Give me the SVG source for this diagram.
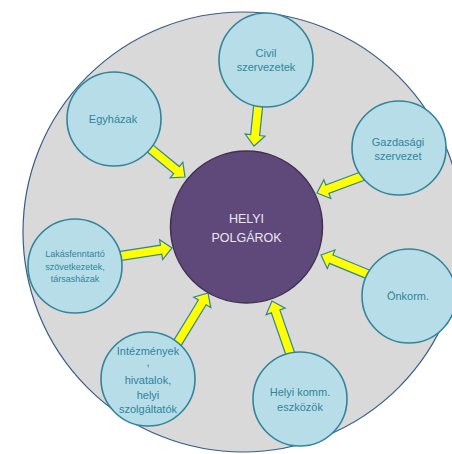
<svg xmlns="http://www.w3.org/2000/svg" width="452" height="454" viewBox="0 0 452 454">
<style>
.bg{fill:#d9d9d9;stroke:#385d8a;stroke-width:1.2}
.hub{fill:#5f497a;stroke:#3f3151;stroke-width:1.5}
.node{fill:#b7dee8;stroke:#31849b;stroke-width:1.6}
.arr{fill:#ffff00;stroke:#31849b;stroke-width:1.2;stroke-linejoin:miter}
.t{font-family:"Liberation Sans",Arial,sans-serif;font-size:11px;fill:#31849b;text-anchor:middle}
.ts{font-size:9px}
.th{font-family:"Liberation Sans",Arial,sans-serif;font-size:12.5px;fill:#ece6f2;text-anchor:middle}
</style>
<rect width="452" height="454" fill="#ffffff"/>
<circle class="bg" cx="243" cy="232" r="220"/>
<g id="connectors">
<path class="arr" transform="translate(254,146) rotate(95.9)" d="M-44,-4.5 L-11,-4.5 L-11,-10 L0,0 L-11,10 L-11,4.5 L-44,4.5 Z"/>
<path class="arr" transform="translate(185,177) rotate(39.3)" d="M-48,-4.5 L-11,-4.5 L-11,-10 L0,0 L-11,10 L-11,4.5 L-48,4.5 Z"/>
<path class="arr" transform="translate(317,193) rotate(159.6)" d="M-51,-4.5 L-11,-4.5 L-11,-10 L0,0 L-11,10 L-11,4.5 L-51,4.5 Z"/>
<path class="arr" transform="translate(172,248) rotate(-8.7)" d="M-58,-4.5 L-11,-4.5 L-11,-10 L0,0 L-11,10 L-11,4.5 L-58,4.5 Z"/>
<path class="arr" transform="translate(321,255) rotate(202.4)" d="M-55,-4.5 L-11,-4.5 L-11,-10 L0,0 L-11,10 L-11,4.5 L-55,4.5 Z"/>
<path class="arr" transform="translate(208,293) rotate(-58.5)" d="M-63,-4.5 L-11,-4.5 L-11,-10 L0,0 L-11,10 L-11,4.5 L-63,4.5 Z"/>
<path class="arr" transform="translate(272,301) rotate(-109.1)" d="M-63,-4.5 L-11,-4.5 L-11,-10 L0,0 L-11,10 L-11,4.5 L-63,4.5 Z"/>
</g>
<g id="hub">
<circle class="hub" cx="246.5" cy="227" r="76"/>
<text class="th" x="246.5" y="222.5">HELYI</text>
<text class="th" x="246.5" y="241.5">POLGÁROK</text>
</g>
<g id="civil">
<circle class="node" cx="266" cy="60" r="47"/>
<text class="t" x="266" y="57">Civil</text>
<text class="t" x="266" y="71">szervezetek</text>
</g>
<g id="egyhazak">
<circle class="node" cx="114" cy="119" r="47"/>
<text class="t" x="113" y="123">Egyházak</text>
</g>
<g id="gazdasagi">
<circle class="node" cx="399" cy="148" r="47"/>
<text class="t" x="398" y="146">Gazdasági</text>
<text class="t" x="398" y="160">szervezet</text>
</g>
<g id="lakas">
<circle class="node" cx="75" cy="266" r="47"/>
<text class="t ts" x="75" y="257">Lakásfenntartó</text>
<text class="t ts" x="75" y="270">szövetkezetek,</text>
<text class="t ts" x="75" y="282">társasházak</text>
</g>
<g id="onkorm">
<circle class="node" cx="409" cy="296" r="47"/>
<text class="t" x="408" y="300">Önkorm.</text>
</g>
<g id="intezmenyek">
<circle class="node" cx="148" cy="379" r="47"/>
<text class="t" x="148" y="355">Intézmények</text>
<text class="t" x="148" y="366">,</text>
<text class="t" x="148" y="384">hivatalok,</text>
<text class="t" x="148" y="398.5">helyi</text>
<text class="t" x="148" y="413">szolgáltatók</text>
</g>
<g id="helyikomm">
<circle class="node" cx="300" cy="399" r="47"/>
<text class="t" x="300" y="396">Helyi komm.</text>
<text class="t" x="300" y="411">eszközök</text>
</g>
</svg>
